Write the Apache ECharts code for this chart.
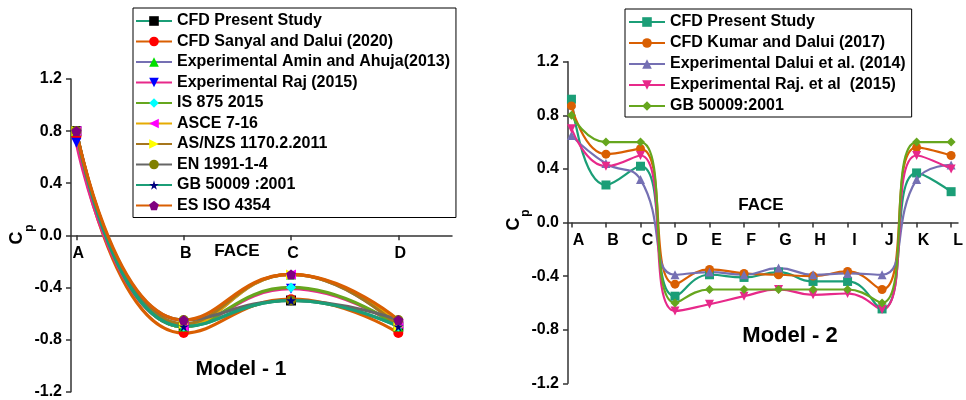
<!DOCTYPE html>
<html>
<head>
<meta charset="utf-8">
<script src="https://cdn.jsdelivr.net/npm/echarts@6/dist/echarts.min.js"></script>
<style>
html,body{margin:0;padding:0;background:#fff;}
#c{width:966px;height:400px;}
</style>
</head>
<body>
<div id="c"></div>
<script>
// ---------- Model 1 data ----------
const faces1 = ['A', 'B', 'C', 'D'];
const m1CfdPresent = [0.80, -0.70, -0.50, -0.70];
const m1Sanyal     = [0.76, -0.75, -0.49, -0.75];
const m1Amin       = [0.80, -0.70, -0.30, -0.70];
const m1Raj        = [0.71, -0.70, -0.41, -0.70];
const m1IS875      = [0.80, -0.70, -0.40, -0.70];
const m1ASCE       = [0.80, -0.70, -0.30, -0.68];
const m1ASNZS      = [0.80, -0.68, -0.30, -0.70];
const m1EN         = [0.80, -0.65, -0.50, -0.65];
const m1GB         = [0.80, -0.70, -0.50, -0.70];
const m1ESISO      = [0.80, -0.65, -0.30, -0.65];

// ---------- Model 2 data ----------
const faces2 = ['A','B','C','D','E','F','G','H','I','J','K','L'];
const m2CfdPresent = [0.92, 0.28, 0.42, -0.55, -0.39, -0.41, -0.37, -0.44, -0.44, -0.645, 0.37, 0.23];
const m2Kumar      = [0.87, 0.51, 0.55, -0.46, -0.35, -0.38, -0.39, -0.40, -0.365, -0.50, 0.56, 0.50];
const m2Dalui      = [0.65, 0.44, 0.32, -0.39, -0.37, -0.39, -0.34, -0.39, -0.38, -0.39, 0.32, 0.43];
const m2Raj        = [0.70, 0.42, 0.50, -0.66, -0.61, -0.55, -0.50, -0.54, -0.53, -0.65, 0.50, 0.40];
const m2GB         = [0.80, 0.60, 0.60, -0.60, -0.50, -0.50, -0.50, -0.50, -0.50, -0.60, 0.60, 0.60];

const yMin = -1.2, yMax = 1.2, yStep = 0.4;

const FONT = 'Arial, "Liberation Sans", sans-serif';
const SYM = {
  down: 'path://M0,0 L100,0 L50,87 Z',
  left: 'path://M0,50 L87,0 L87,100 Z',
  right: 'path://M0,0 L87,50 L0,100 Z',
  star: 'path://M50,0 L61,35 L98,35 L68,57 L79,91 L50,70 L21,91 L32,57 L2,35 L39,35 Z',
  pent: 'path://M50,0 L98,35 L79,91 L21,91 L2,35 Z'
};

function pts(arr) { return arr.map((v, i) => [i + 1, v]); }

function s1(name, data, lineColor, symbol, symColor) {
  return {
    name: name, type: 'line', xAxisIndex: 0, yAxisIndex: 0,
    data: pts(data), smooth: 0.5, symbol: symbol, symbolSize: 10,
    lineStyle: { color: lineColor, width: 3.2 },
    itemStyle: { color: symColor },
    emphasis: { disabled: true }
  };
}
function s2(name, data, color, symbol) {
  return {
    name: name, type: 'line', xAxisIndex: 1, yAxisIndex: 1,
    data: pts(data), smooth: 0.5, symbol: symbol, symbolSize: 9,
    lineStyle: { color: color, width: 2.2 },
    itemStyle: { color: color },
    emphasis: { disabled: true }
  };
}

const series1 = [
  s1('CFD Present Study', m1CfdPresent, '#1b9e77', 'rect', '#000000'),
  s1('CFD Sanyal and Dalui (2020)', m1Sanyal, '#d95f02', 'circle', '#ff0000'),
  s1('Experimental Amin and Ahuja(2013)', m1Amin, '#7570b3', 'triangle', '#00e000'),
  s1('Experimental Raj (2015)', m1Raj, '#e7298a', SYM.down, '#0000ff'),
  s1('IS 875 2015', m1IS875, '#66a61e', 'diamond', '#00ffff'),
  s1('ASCE 7-16', m1ASCE, '#e6ab02', SYM.left, '#ff00ff'),
  s1('AS/NZS 1170.2.2011', m1ASNZS, '#a6761d', SYM.right, '#ffff00'),
  s1('EN 1991-1-4', m1EN, '#666666', 'circle', '#808000'),
  s1('GB 50009 :2001', m1GB, '#1b9e77', SYM.star, '#000080'),
  s1('ES ISO 4354', m1ESISO, '#d95f02', SYM.pent, '#800080')
];
const series2 = [
  s2('CFD Present Study ', m2CfdPresent, '#1b9e77', 'rect'),
  s2('CFD Kumar and Dalui (2017)', m2Kumar, '#d95f02', 'circle'),
  s2('Experimental Dalui et al. (2014)', m2Dalui, '#7570b3', 'triangle'),
  s2('Experimental Raj. et al  (2015)', m2Raj, '#e7298a', SYM.down),
  s2('GB 50009:2001', m2GB, '#66a61e', 'diamond')
];

const grids = [
  { left: 71, top: 79, width: 381, height: 312.7 },
  { left: 568, top: 61.7, width: 398, height: 321.6 }
];

const axisLineStyle = { color: '#333', width: 1.5 };
const labelStyle = { color: '#000', fontFamily: FONT, fontWeight: 'bold', fontSize: 16 };

function xAxisDef(gi, faces, min, max, pad) {
  const vals = faces.map((f, i) => i + 1);
  // x axis crosses y = 0
  const zeroOffset = -grids[gi].height * (0 - yMin) / (yMax - yMin);
  return {
    type: 'value', gridIndex: gi, min: min, max: max,
    position: 'bottom', offset: zeroOffset,
    axisLine: { onZero: false, lineStyle: axisLineStyle },
    axisTick: { show: true, length: 5, inside: false, customValues: vals, lineStyle: axisLineStyle },
    axisLabel: Object.assign({
      customValues: vals, margin: 10, padding: [0, 0, 0, pad],
      formatter: v => faces[Math.round(v) - 1] || ''
    }, labelStyle),
    splitLine: { show: false }
  };
}
function yAxisDef(gi) {
  return {
    type: 'value', gridIndex: gi, min: yMin, max: yMax, interval: yStep,
    axisLine: { show: true, onZero: false, lineStyle: axisLineStyle },
    axisTick: { show: true, length: 5, lineStyle: axisLineStyle },
    axisLabel: Object.assign({ margin: 9, formatter: v => v.toFixed(1) }, labelStyle),
    splitLine: { show: false }
  };
}

const legendText = { color: '#000', fontFamily: FONT, fontWeight: 'bold', fontSize: 16 };

const option = {
  animation: false,
  backgroundColor: '#fff',
  grid: grids,
  xAxis: [
    xAxisDef(0, faces1, 0.95, 4.5, 4),
    xAxisDef(1, faces2, 0.9, 12.2, 14)
  ],
  yAxis: [yAxisDef(0), yAxisDef(1)],
  legend: [
    {
      data: series1.map(s => s.name), orient: 'vertical', left: 133, top: 8,
      padding: [5, 6, 4, 2], itemGap: 4.5, itemWidth: 36, itemHeight: 12,
      borderColor: '#000', borderWidth: 1, textStyle: legendText,
      selectedMode: false
    },
    {
      data: series2.map(s => s.name), orient: 'vertical', left: 625, top: 9,
      padding: [5, 6, 3, 3], itemGap: 5, itemWidth: 36, itemHeight: 12,
      borderColor: '#000', borderWidth: 1, textStyle: legendText,
      selectedMode: false
    }
  ],
  graphic: [
    { type: 'text', x: 237, y: 251, style: { text: 'FACE', fill: '#000', font: 'bold 17px ' + FONT, align: 'center', verticalAlign: 'middle' } },
    { type: 'text', x: 761, y: 205, style: { text: 'FACE', fill: '#000', font: 'bold 17px ' + FONT, align: 'center', verticalAlign: 'middle' } },
    { type: 'text', x: 241, y: 369, style: { text: 'Model - 1', fill: '#000', font: 'bold 21px ' + FONT, align: 'center', verticalAlign: 'middle' } },
    { type: 'text', x: 790, y: 336, style: { text: 'Model - 2', fill: '#000', font: 'bold 22px ' + FONT, align: 'center', verticalAlign: 'middle' } },
    { type: 'text', x: 17, y: 238, rotation: Math.PI / 2, style: { text: 'C', fill: '#000', font: 'bold 18px ' + FONT, align: 'center', verticalAlign: 'middle' } },
    { type: 'text', x: 30, y: 228, rotation: Math.PI / 2, style: { text: 'p', fill: '#000', font: 'bold 12px ' + FONT, align: 'center', verticalAlign: 'middle' } },
    { type: 'text', x: 514, y: 224, rotation: Math.PI / 2, style: { text: 'C', fill: '#000', font: 'bold 18px ' + FONT, align: 'center', verticalAlign: 'middle' } },
    { type: 'text', x: 526, y: 213, rotation: Math.PI / 2, style: { text: 'p', fill: '#000', font: 'bold 12px ' + FONT, align: 'center', verticalAlign: 'middle' } }
  ],
  series: series1.concat(series2)
};

const chart = echarts.init(document.getElementById('c'), null, { renderer: 'canvas' });
chart.setOption(option);
</script>
</body>
</html>
